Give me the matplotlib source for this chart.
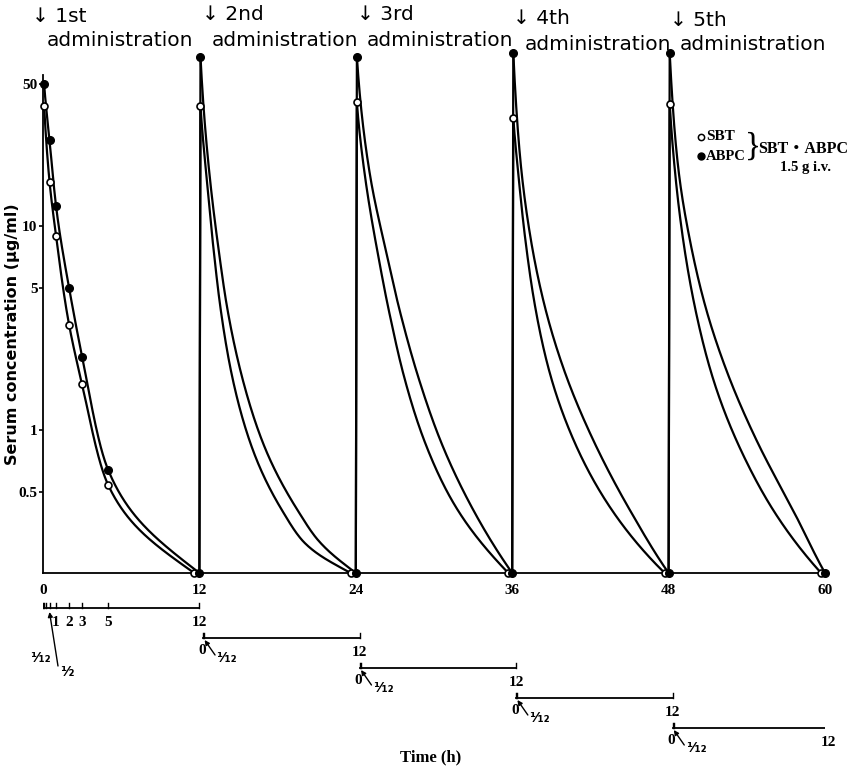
import numpy as np
import matplotlib.pyplot as plt
from matplotlib.lines import Line2D

# ---- values ----
admin_hours = [0, 12, 24, 36, 48]
admin_names = ['1st', '2nd', '3rd', '4th', '5th']

# 1st administration: measured points (h after dose)
t_first_sbt = [1/12, 0.5, 1, 2, 3, 5, 11.6]
sbt_first = [39, 16.6, 9.0, 3.3, 1.68, 0.54, 0.2]
t_first_abpc = [1/12, 0.5, 1, 2, 3, 5, 12]
abpc_first = [50, 26.5, 12.6, 5.0, 2.3, 0.64, 0.2]

# 2nd - 5th administration: points (h after dose)
t_sbt_2nd = [1/12, 0.56, 1.07, 1.6, 2.48, 4.14, 6.3, 8.1, 11.6]
sbt_2nd = [39, 17.1, 7.9, 4.06, 1.88, 0.79, 0.41, 0.28, 0.2]
t_abpc_2nd = [1/12, 0.81, 1.45, 2.1, 3.25, 5.0, 7.6, 9.1, 12]
abpc_2nd = [68, 17.1, 7.9, 4.1, 1.85, 0.83, 0.40, 0.29, 0.2]

t_sbt_3rd = [1/12, 0.7, 1.6, 2.6, 3.65, 5.2, 7.5, 11.7]
sbt_3rd = [40.5, 17.7, 7.9, 3.7, 1.89, 0.91, 0.44, 0.2]
t_abpc_3rd = [1/12, 1.1, 2.25, 3.4, 4.8, 6.5, 8.9, 12]
abpc_3rd = [68, 17.7, 7.9, 3.8, 1.82, 0.89, 0.42, 0.2]

t_sbt_4th = [1/12, 0.46, 1.0, 1.66, 2.8, 4.7, 7.4, 11.7]
sbt_4th = [34, 18.3, 8.7, 4.4, 2.0, 0.90, 0.43, 0.2]
t_abpc_4th = [1/12, 0.64, 1.4, 2.4, 4.0, 6.1, 9.0, 12]
abpc_4th = [71, 20.7, 8.85, 4.3, 1.96, 0.93, 0.41, 0.2]

t_sbt_5th = [1/12, 0.5, 1.15, 2.04, 3.3, 5.8, 8.1, 11.7]
sbt_5th = [40, 18.3, 8.3, 3.96, 1.89, 0.74, 0.40, 0.2]
t_abpc_5th = [1/12, 0.7, 1.66, 2.8, 4.45, 6.8, 9.6, 12]
abpc_5th = [71, 20.4, 8.4, 4.1, 1.96, 0.88, 0.40, 0.2]

y_ticks = [0.5, 1, 5, 10, 50]
y_ticklabels = ['0.5', '1', '5', '10', '50']
x_ticks = [0, 12, 24, 36, 48, 60]
sub_ticks_first = [0.25, 0.5, 1, 2, 3, 5]
sub_labels_first = [1, 2, 3, 5]


def smooth(t, v, n=400):
    # monotone cubic (pchip) through the points, done in log(conc) vs log(t + 0.5)
    x = np.log(np.asarray(t, float) + 0.5)
    y = np.log10(v)
    h = np.diff(x)
    d = np.diff(y) / h
    m = np.empty_like(y)
    m[0], m[-1] = d[0], d[-1]
    for k in range(1, len(x) - 1):
        if d[k - 1] * d[k] <= 0:
            m[k] = 0
        else:
            w1 = 2 * h[k] + h[k - 1]
            w2 = h[k] + 2 * h[k - 1]
            m[k] = (w1 + w2) / (w1 / d[k - 1] + w2 / d[k])
    xs = np.linspace(x[0], x[-1], n)
    i = np.clip(np.searchsorted(x, xs) - 1, 0, len(x) - 2)
    s = (xs - x[i]) / h[i]
    ys = ((2 * s**3 - 3 * s**2 + 1) * y[i] + (s**3 - 2 * s**2 + s) * h[i] * m[i]
          + (-2 * s**3 + 3 * s**2) * y[i + 1] + (s**3 - s**2) * h[i] * m[i + 1])
    return np.exp(xs) - 0.5, 10**ys


W, H = 860, 770
def fx(px):
    return px / W
def fy(py):
    return 1 - py / H


serif = ['Liberation Serif', 'DejaVu Serif']
fig = plt.figure(figsize=(8.6, 7.7), dpi=100)
ax = fig.add_axes([fx(43), fy(573), (825 - 43) / W, 519 / H])
ax.set_yscale('log')
ax.set_xlim(0, 60)
ax.set_ylim(0.2, 70)

open_kw = dict(marker='o', ms=5, mfc='white', mec='k', mew=1.2, ls='none', clip_on=False, zorder=4)
fill_kw = dict(marker='o', ms=5.5, color='k', ls='none', clip_on=False, zorder=4)
line_kw = dict(color='k', lw=1.6, clip_on=False, zorder=3)

# 1st administration
xs, ys = smooth(t_first_sbt, sbt_first)
ax.plot(xs, ys, **line_kw)
xs, ys = smooth(t_first_abpc, abpc_first)
ax.plot(xs, ys, **line_kw)
ax.plot(t_first_sbt, sbt_first, **open_kw)
ax.plot(t_first_abpc, abpc_first, **fill_kw)

# repeated administrations
rep = [(t_sbt_2nd, sbt_2nd, t_abpc_2nd, abpc_2nd),
       (t_sbt_3rd, sbt_3rd, t_abpc_3rd, abpc_3rd),
       (t_sbt_4th, sbt_4th, t_abpc_4th, abpc_4th),
       (t_sbt_5th, sbt_5th, t_abpc_5th, abpc_5th)]
for t0, (ts, s_vals, ta, a_vals) in zip(admin_hours[1:], rep):
    xs, ys = smooth(ts, s_vals)
    ax.plot(xs + t0, ys, **line_kw)
    xs, ys = smooth(ta, a_vals)
    ax.plot(xs + t0, ys, **line_kw)
    ax.plot([t0, t0 + ts[0]], [0.2, s_vals[0]], **line_kw)
    ax.plot([t0, t0 + ta[0]], [0.2, a_vals[0]], **line_kw)
    ax.plot([t0 + ts[0], t0 + ts[-1]], [s_vals[0], s_vals[-1]], **open_kw)
    ax.plot([t0 + ta[0], t0 + ta[-1]], [a_vals[0], a_vals[-1]], **fill_kw)

# axes styling
for side in ['top', 'right']:
    ax.spines[side].set_visible(False)
ax.spines['left'].set_bounds(0.2, 55)
ax.spines['left'].set_linewidth(1.3)
ax.spines['bottom'].set_linewidth(1.3)
ax.set_yticks(y_ticks)
ax.set_yticklabels(y_ticklabels)
ax.yaxis.set_minor_locator(plt.NullLocator())
ax.set_xticks(x_ticks)
ax.set_xticklabels([str(v) for v in x_ticks])
ax.tick_params(axis='x', length=0, pad=8)
ax.tick_params(axis='y', length=3, width=1.2, pad=1)
for lab in ax.get_xticklabels() + ax.get_yticklabels():
    lab.set_family(serif)
    lab.set_fontweight('bold')
    lab.set_fontsize(11)

# time scales of each administration under the axis
ax2 = fig.add_axes([fx(43), 0, (825 - 43) / W, 1])
ax2.set_xlim(0, 60)
ax2.set_ylim(H, 0)
ax2.axis('off')
ax2.patch.set_alpha(0)
row_y = [608, 638, 668, 698, 728]
arrow_kw = dict(arrowstyle='-|>', color='k', lw=1.0, mutation_scale=7, shrinkA=0, shrinkB=0)
txt_kw = dict(family=serif, fontweight='bold', fontsize=11, ha='center', va='center')
frac_kw = dict(family='DejaVu Sans', fontweight='bold', fontsize=10, ha='center', va='center')
for k, t0 in enumerate(admin_hours):
    start = t0 if k == 0 else t0 + 0.3
    end = start + 12
    y = row_y[k]
    ax2.plot([start, end], [y, y], color='k', lw=1.3)
    for tk in [0, 1/12, 12]:
        ax2.plot([start + tk, start + tk], [y, y - 5], color='k', lw=1.0)
    ax2.text(end, y + 14, '12', **txt_kw)
    if k == 0:
        for tk in sub_ticks_first:
            ax2.plot([tk, tk], [y, y - 5], color='k', lw=1.0)
        for v in sub_labels_first:
            ax2.text(v, y + 14, str(v), **txt_kw)
        ax2.annotate('', xy=(-0.05, y + 2), xytext=(-0.05, y + 38), arrowprops=arrow_kw)
        ax2.text(-0.2, y + 50, '¹⁄₁₂', **frac_kw)
        ax2.annotate('', xy=(0.5, y + 4), xytext=(1.15, y + 58), arrowprops=arrow_kw)
        ax2.text(1.9, y + 64, '¹⁄₂', **frac_kw)
    else:
        ax2.text(start - 0.1, y + 13, '0', **txt_kw)
        ax2.annotate('', xy=(start + 0.1, y + 2), xytext=(start + 0.9, y + 17), arrowprops=arrow_kw)
        ax2.text(start + 1.8, y + 20, '¹⁄₁₂', **frac_kw)

# titles over each administration
arrow_x = [32, 202, 357, 513, 670]
arrow_y = [17, 15, 15, 18, 20]
name_x = [47, 212, 367, 525, 680]
name_y = [40, 40, 40, 45, 45]
for k, name in enumerate(admin_names):
    fig.text(fx(arrow_x[k]), fy(arrow_y[k]), '↓ ' + name, ha='left', va='center',
             fontsize=14.5, family='DejaVu Sans')
    fig.text(fx(name_x[k]), fy(name_y[k]), 'administration', ha='left', va='center',
             fontsize=14.5, family='DejaVu Sans')

fig.text(fx(13), fy(334), 'Serum concentration (μg/ml)', rotation=90, ha='center', va='center',
         fontsize=11.5, fontweight='bold', family='DejaVu Sans')
fig.text(fx(431), fy(757), 'Time (h)', ha='center', va='center', family=serif,
         fontweight='bold', fontsize=12)

# legend
fig.add_artist(Line2D([fx(701)], [fy(137)], transform=fig.transFigure,
                      marker='o', ms=4.5, mfc='white', mec='k', mew=1.1))
fig.add_artist(Line2D([fx(701)], [fy(156)], transform=fig.transFigure,
                      marker='o', ms=5, color='k'))
fig.text(fx(706), fy(137), 'SBT', ha='left', va='center', family=serif, fontweight='bold', fontsize=11)
fig.text(fx(706), fy(156), 'ABPC', ha='left', va='center', family=serif, fontweight='bold', fontsize=10.5)
fig.text(fx(753), fy(147), '}', ha='center', va='center', family=serif, fontsize=24)
fig.text(fx(758), fy(149), 'SBT・ABPC', ha='left', va='center',
         family=['Liberation Serif', 'Noto Sans CJK JP'], fontweight='bold', fontsize=11.5)
fig.text(fx(805), fy(168), '1.5 g i.v.', ha='center', va='center', family=serif,
         fontweight='bold', fontsize=10.5)

fig.savefig('out.png', dpi=100)
